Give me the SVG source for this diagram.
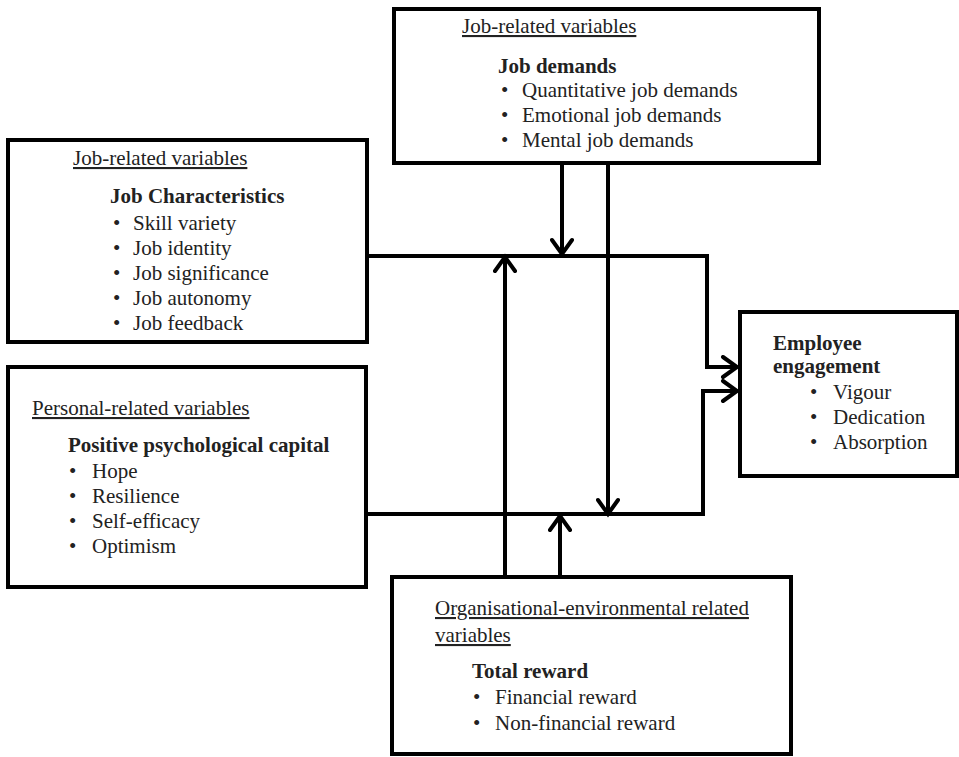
<svg xmlns="http://www.w3.org/2000/svg" width="959" height="757" viewBox="0 0 959 757">
<style>
.box{fill:#fff;stroke:#000;stroke-width:4}
text{font-family:"Liberation Serif","Times New Roman",serif;font-size:21px;fill:#222}
.u{text-decoration:underline}
.b{font-weight:bold}
.c{fill:none;stroke:#000;stroke-width:4}
</style>
<defs>
<marker id="ah" markerUnits="userSpaceOnUse" viewBox="-18 -12 22 24" refX="0" refY="0" markerWidth="22" markerHeight="24" orient="auto">
<path d="M-14,-10 L0,0 L-14,10" fill="none" stroke="#000" stroke-width="4" stroke-linecap="round" stroke-linejoin="miter"/>
</marker>
</defs>
<rect width="959" height="757" fill="#fff"/>
<g id="connectors">
<path class="c" d="M367,256 H707 V367 H737" marker-end="url(#ah)"/>
<path class="c" d="M367,514 H703 V391 H737" marker-end="url(#ah)"/>
<path class="c" d="M562,163 V254" marker-end="url(#ah)"/>
<path class="c" d="M608,163 V514" marker-end="url(#ah)"/>
<path class="c" d="M505,577 V257" marker-end="url(#ah)"/>
<path class="c" d="M560,577 V516" marker-end="url(#ah)"/>
</g>
<g id="job-demands">
<rect class="box" x="394" y="9" width="425" height="154"/>
<text class="u" x="462" y="33">Job-related variables</text>
<text class="b" x="498" y="73">Job demands</text>
<text x="501" y="97">•</text><text x="522" y="97">Quantitative job demands</text>
<text x="501" y="122">•</text><text x="522" y="122">Emotional job demands</text>
<text x="501" y="147">•</text><text x="522" y="147">Mental job demands</text>
</g>
<g id="job-characteristics">
<rect class="box" x="8" y="140" width="359" height="202"/>
<text class="u" x="73" y="165">Job-related variables</text>
<text class="b" x="110" y="203">Job Characteristics</text>
<text x="113" y="230">•</text><text x="133" y="230">Skill variety</text>
<text x="113" y="255">•</text><text x="133" y="255">Job identity</text>
<text x="113" y="280">•</text><text x="133" y="280">Job significance</text>
<text x="113" y="305">•</text><text x="133" y="305">Job autonomy</text>
<text x="113" y="330">•</text><text x="133" y="330">Job feedback</text>
</g>
<g id="psycap">
<rect class="box" x="8" y="367" width="358" height="220"/>
<text class="u" x="32" y="415">Personal-related variables</text>
<text class="b" x="68" y="452">Positive psychological capital</text>
<text x="69" y="478">•</text><text x="92" y="478">Hope</text>
<text x="69" y="503">•</text><text x="92" y="503">Resilience</text>
<text x="69" y="528">•</text><text x="92" y="528">Self-efficacy</text>
<text x="69" y="553">•</text><text x="92" y="553">Optimism</text>
</g>
<g id="total-reward">
<rect class="box" x="392" y="577" width="399" height="177"/>
<text class="u" x="435" y="615">Organisational-environmental related</text>
<text class="u" x="435" y="642">variables</text>
<text class="b" x="472" y="678">Total reward</text>
<text x="473" y="704">•</text><text x="495" y="704">Financial reward</text>
<text x="473" y="730">•</text><text x="495" y="730">Non-financial reward</text>
</g>
<g id="employee-engagement">
<rect class="box" x="740" y="312" width="217" height="164"/>
<text class="b" x="773" y="350">Employee</text>
<text class="b" x="773" y="373">engagement</text>
<text x="810" y="399">•</text><text x="833" y="399">Vigour</text>
<text x="810" y="424">•</text><text x="833" y="424">Dedication</text>
<text x="810" y="449">•</text><text x="833" y="449">Absorption</text>
</g>
</svg>
